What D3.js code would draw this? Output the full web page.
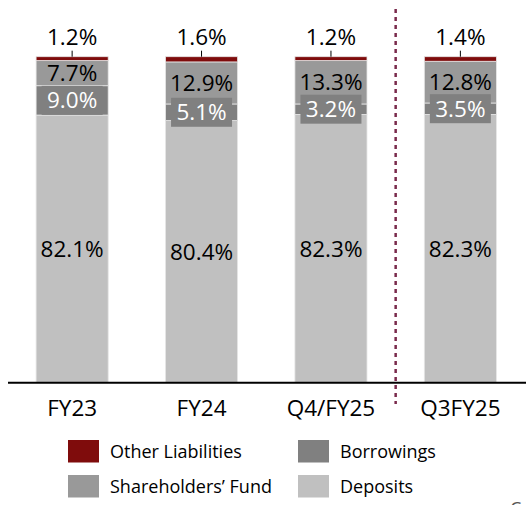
<!DOCTYPE html>
<html><head><meta charset="utf-8">
<script src="https://cdn.jsdelivr.net/npm/d3@7"></script>
<style>html,body{margin:0;padding:0;background:#fff;}svg{display:block;}</style>
</head><body>
<script>
const categories = ["FY23", "FY24", "Q4/FY25", "Q3FY25"];
const deposits = [82.1, 80.4, 82.3, 82.3];
const borrowings = [9.0, 5.1, 3.2, 3.5];
const shareholdersFund = [7.7, 12.9, 13.3, 12.8];
const otherLiabilities = [1.2, 1.6, 1.2, 1.4];
const seriesNames = ["Deposits", "Borrowings", "Shareholders’ Fund", "Other Liabilities"];
const legendOrder = ["Other Liabilities", "Borrowings", "Shareholders’ Fund", "Deposits"];

const W = 526, H = 505;
const colors = {"Deposits":"#c0c0c0","Borrowings":"#808080","Shareholders’ Fund":"#999999","Other Liabilities":"#7f0c0c"};
const font = "'Open Sans', sans-serif";

const svg = d3.select("body").append("svg").attr("width", W).attr("height", H);

const rows = categories.map((c,i)=>({cat:c,"Deposits":deposits[i],"Borrowings":borrowings[i],"Shareholders’ Fund":shareholdersFund[i],"Other Liabilities":otherLiabilities[i]}));
const stack = d3.stack().keys(seriesNames)(rows);

const x = d3.scaleBand().domain(categories).range([7.5, 525]).paddingInner(0.443).paddingOuter(0.221);
const y = d3.scaleLinear().domain([0, 100]).range([382.7, 56.7]);

const g = svg.append("g");
stack.forEach(layer=>{
  g.selectAll(null).data(layer).enter().append("rect")
    .attr("x", d=>x(d.data.cat)).attr("width", x.bandwidth())
    .attr("y", d=>y(d[1])).attr("height", d=>y(d[0])-y(d[1]))
    .attr("fill", colors[layer.key])
    .attr("stroke", "#e6e6e6").attr("stroke-width", 0.8);
});

const cx = d=>x(d.data.cat)+x.bandwidth()/2;
// Deposits labels
const dep = stack[0];
g.selectAll(null).data(dep).enter().append("text")
  .attr("x", cx).attr("y", d=>(y(d[0])+y(d[1]))/2)
  .attr("dy","0.36em").attr("text-anchor","middle")
  .attr("font-family",font).attr("font-size",22.5).attr("fill","#000")
  .text(d=>d.data["Deposits"].toFixed(1)+"%");
// Borrowings labels with boxes
const bor = stack[1];
g.selectAll(null).data(bor).enter().append("rect")
  .attr("x", d=>cx(d)-30.5).attr("width",61)
  .attr("y", d=>(y(d[0])+y(d[1]))/2-14.5).attr("height",29)
  .attr("fill", colors["Borrowings"]);
g.selectAll(null).data(bor).enter().append("text")
  .attr("x", cx).attr("y", d=>(y(d[0])+y(d[1]))/2)
  .attr("dy","0.36em").attr("text-anchor","middle")
  .attr("font-family",font).attr("font-size",22.5).attr("fill","#fff")
  .text(d=>d.data["Borrowings"].toFixed(1)+"%");
// Shareholders labels
const sh = stack[2];
g.selectAll(null).data(sh).enter().append("text")
  .attr("x", cx).attr("y", d=>(y(d[0])+y(d[1]))/2)
  .attr("dy","0.36em").attr("text-anchor","middle")
  .attr("font-family",font).attr("font-size",22.5).attr("fill","#000")
  .text(d=>d.data["Shareholders’ Fund"].toFixed(1)+"%");
// Other labels above with leader
const ot = stack[3];
g.selectAll(null).data(ot).enter().append("line")
  .attr("x1", cx).attr("x2", cx).attr("y1", d=>y(d[1])-6).attr("y2", d=>y(d[1]))
  .attr("stroke","#000").attr("stroke-width",1);
g.selectAll(null).data(ot).enter().append("text")
  .attr("x", cx).attr("y", 45)
  .attr("text-anchor","middle")
  .attr("font-family",font).attr("font-size",22.5).attr("fill","#000")
  .text(d=>d.data["Other Liabilities"].toFixed(1)+"%");

// axis
const axis = svg.append("g").attr("transform","translate(0,382.7)")
  .call(d3.axisBottom(x).tickSize(0).tickPadding(0));
axis.select(".domain").remove();
axis.append("line").attr("x1",8).attr("x2",526).attr("stroke","#000").attr("stroke-width",2);
axis.selectAll(".tick text").attr("font-family",font).attr("font-size",22.5).attr("fill","#000")
  .attr("dy",null).attr("y",33);

// divider
const divX = (x("Q4/FY25")+x.bandwidth()+x("Q3FY25"))/2;
svg.append("line").attr("x1",divX).attr("x2",divX).attr("y1",9).attr("y2",404)
  .attr("stroke","#7a2a4c").attr("stroke-width",2.5).attr("stroke-dasharray","4 4");

// legend
const legPos = [[68,440],[298,440],[68,475],[298,475]];
legendOrder.forEach((k,i)=>{
  const [lx,ly] = legPos[i];
  svg.append("rect").attr("x",lx).attr("y",ly).attr("width",31).attr("height",22.5).attr("fill",colors[k]);
  svg.append("text").attr("x",lx+42).attr("y",ly+11.5).attr("dy","0.36em")
    .attr("font-family",font).attr("font-size",18).attr("fill","#000").text(k);
});
svg.append("text").attr("x",510).attr("y",515).attr("font-family",font).attr("font-size",18).attr("fill","#555").text("C");
</script>
</body></html>
